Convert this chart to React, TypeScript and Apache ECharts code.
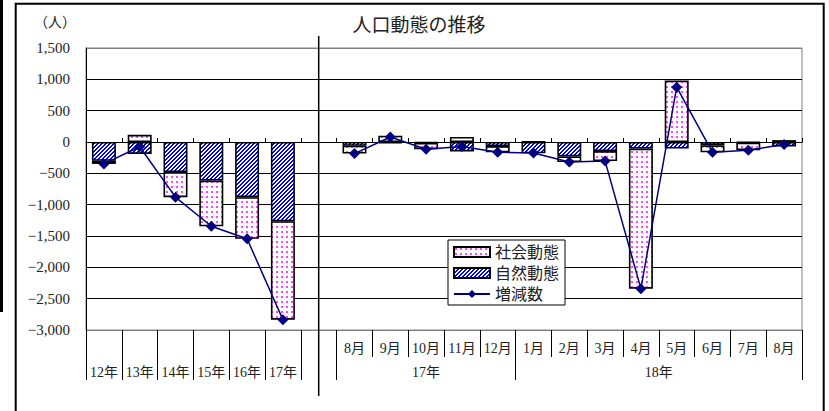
import React, { useEffect, useRef } from 'react';
import * as echarts from 'echarts';

// ---- data ----
const yearCategories = ['12年', '13年', '14年', '15年', '16年', '17年'];
const months17 = ['8月', '9月', '10月', '11月', '12月'];
const months18 = ['1月', '2月', '3月', '4月', '5月', '6月', '7月', '8月'];
const groupLabels = ['17年', '18年'];

// 自然動態 (natural change)
const natural = [-300, -190, -480, -615, -880, -1265, null, -60, -20, -15, -150, -65, -180, -230, -145, -105, -105, -55, -10, -70];
// 社会動態 (social change)
const social = [-50, 115, -400, -730, -665, -1570, null, -125, 100, -100, 80, -100, 5, -90, -160, -2235, 980, -110, -120, 30];
// 増減数 (net change)
const netChange = [-350, -75, -880, -1345, -1545, -2835, null, -185, 80, -115, -70, -165, -175, -320, -305, -2340, 875, -165, -130, -40];

const yMin = -3000;
const yMax = 1500;
const yStep = 500;

const FONT = '"Liberation Serif", "Noto Sans CJK JP", serif';
const TEXT = '#222';

const GRID_LEFT = 86;
const GRID_TOP = 48;
const GRID_RIGHT = 27;
const GRID_BOTTOM = 81;

export default function App() {
  const ref = useRef<HTMLDivElement>(null);

  useEffect(() => {
    const el = ref.current!;
    const chart = echarts.init(el, null, { renderer: 'svg' });

    // patterns
    const dots = document.createElement('canvas');
    dots.width = 5;
    dots.height = 5;
    let ctx = dots.getContext('2d')!;
    ctx.fillStyle = '#ffffff';
    ctx.fillRect(0, 0, 5, 5);
    ctx.fillStyle = '#ff44ff';
    ctx.fillRect(1, 1, 2, 2);

    const hatch = document.createElement('canvas');
    hatch.width = 4;
    hatch.height = 4;
    ctx = hatch.getContext('2d')!;
    ctx.fillStyle = '#ffffff';
    ctx.fillRect(0, 0, 4, 4);
    ctx.fillStyle = '#0000ff';
    for (let x = 0; x < 4; x++) {
      for (let y = 0; y < 4; y++) {
        if ((x + y) % 4 < 2) ctx.fillRect(x, y, 1, 1);
      }
    }

    const months = [...months17, ...months18];
    const categories = [...yearCategories, '', ...months];
    const n = categories.length;
    const row1Labels = [...yearCategories.map(() => ''), '', ...months];

    // long divider ticks: every year boundary, blank slot, and group starts
    const longTicks = new Set<number>();
    for (let i = 0; i <= yearCategories.length + 1; i++) longTicks.add(i);
    const g1Start = yearCategories.length + 1;
    const g2Start = g1Start + months17.length;
    longTicks.add(g1Start);
    longTicks.add(g2Start);

    // second row labels on a value axis (half-slot positions)
    const row2: Record<number, string> = {};
    yearCategories.forEach((c, i) => {
      row2[Math.round((i + 0.5) * 2)] = c;
    });
    row2[Math.round((g1Start + months17.length / 2) * 2)] = groupLabels[0];
    row2[Math.round((g2Start + months18.length / 2) * 2)] = groupLabels[1];

    const nLines = Math.round((yMax - yMin) / yStep) + 1;
    const splitColors = Array.from({ length: nLines }, (_, i) =>
      i === 0 || i === nLines - 1 ? '#808080' : '#000000'
    );

    const fmt = (v: number) => {
      const s = Math.abs(v).toLocaleString('en-US');
      return v < 0 ? '\u2212' + s : s;
    };

    chart.setOption({
      animation: false,
      backgroundColor: '#ffffff',
      grid: {
        left: GRID_LEFT,
        top: GRID_TOP,
        right: GRID_RIGHT,
        bottom: GRID_BOTTOM,
        show: true,
        borderColor: '#808080',
        borderWidth: 1,
        backgroundColor: 'transparent',
      },
      legend: {
        left: 448,
        top: 240,
        orient: 'vertical',
        padding: [4, 6, 3, 5],
        itemWidth: 36,
        itemHeight: 10,
        itemGap: 5,
        backgroundColor: '#ffffff',
        borderColor: '#000000',
        borderWidth: 1,
        selectedMode: false,
        textStyle: { fontSize: 16, lineHeight: 16, fontFamily: FONT, color: TEXT },
        data: [
          { name: '社会動態', icon: 'rect' },
          { name: '自然動態', icon: 'rect' },
          { name: '増減数' },
        ],
      },
      xAxis: [
        {
          type: 'category',
          data: categories,
          position: 'bottom',
          axisLine: { show: true, onZero: true, lineStyle: { color: '#000', width: 1 } },
          axisTick: { show: true, inside: true, length: 4, interval: 0, lineStyle: { color: '#000' } },
          axisLabel: { show: false },
          splitLine: { show: false },
        },
        {
          type: 'category',
          data: row1Labels,
          position: 'bottom',
          axisLine: { show: false, onZero: false },
          axisTick: { show: true, length: 27, interval: 0, lineStyle: { color: '#000' } },
          axisLabel: { interval: 0, margin: 11, fontSize: 14, color: TEXT, fontFamily: FONT },
          splitLine: { show: false },
        },
        {
          type: 'category',
          data: categories,
          position: 'bottom',
          axisLine: { show: false, onZero: false },
          axisTick: {
            show: true,
            length: 50,
            interval: (i: number) => longTicks.has(i),
            lineStyle: { color: '#000' },
          },
          axisLabel: { show: false },
          splitLine: { show: false },
        },
        {
          type: 'value',
          min: 0,
          max: n,
          interval: 0.5,
          position: 'bottom',
          axisLine: { show: false, onZero: false },
          axisTick: { show: false },
          splitLine: { show: false },
          axisLabel: {
            margin: 35,
            fontSize: 14,
            color: TEXT,
            fontFamily: FONT,
            formatter: (v: number) => row2[Math.round(v * 2)] || '',
          },
        },
      ],
      yAxis: {
        type: 'value',
        min: yMin,
        max: yMax,
        interval: yStep,
        axisLine: { show: true, onZero: false, lineStyle: { color: '#000', width: 1 } },
        axisTick: { show: false },
        axisLabel: { margin: 16, fontSize: 15, color: TEXT, fontFamily: FONT, formatter: fmt },
        splitLine: { show: true, lineStyle: { color: splitColors, width: 1 } },
      },
      series: [
        {
          name: '自然動態',
          type: 'bar',
          stack: 'total',
          data: natural,
          barCategoryGap: '33%',
          itemStyle: { color: { image: hatch, repeat: 'repeat' }, borderColor: '#000', borderWidth: 1.6 },
        },
        {
          name: '社会動態',
          type: 'bar',
          stack: 'total',
          data: social,
          barCategoryGap: '33%',
          itemStyle: { color: { image: dots, repeat: 'repeat' }, borderColor: '#000', borderWidth: 1.6 },
        },
        {
          name: '増減数',
          type: 'line',
          data: netChange,
          symbol: 'diamond',
          symbolSize: 11,
          itemStyle: { color: '#000080' },
          lineStyle: { color: '#000080', width: 1.5 },
        },
      ],
    });

    let sepX = chart.convertToPixel({ xAxisIndex: 0 }, yearCategories.length) as number;
    if (typeof sepX !== 'number' || isNaN(sepX)) {
      const slot = (829 - GRID_LEFT - GRID_RIGHT) / n;
      sepX = GRID_LEFT + (yearCategories.length + 0.5) * slot;
    }

    chart.setOption({
      graphic: [
        {
          type: 'rect',
          silent: true,
          shape: { x: 0, y: 0, width: 3, height: 312 },
          style: { fill: '#000' },
        },
        {
          type: 'rect',
          silent: true,
          shape: { x: 15.7, y: 3.7, width: 808, height: 440 },
          style: { fill: 'none', stroke: '#000', lineWidth: 2 },
        },
        {
          type: 'line',
          silent: true,
          shape: { x1: sepX, y1: 36, x2: sepX, y2: 396 },
          style: { stroke: '#000', lineWidth: 1.5 },
        },
        {
          type: 'text',
          silent: true,
          x: 419,
          y: 25,
          style: {
            text: '人口動態の推移',
            fontSize: 19,
            fontFamily: FONT,
            fill: TEXT,
            align: 'center',
            verticalAlign: 'middle',
          },
        },
        {
          type: 'text',
          silent: true,
          x: 55,
          y: 22,
          style: {
            text: '（人）',
            fontSize: 14,
            fontFamily: FONT,
            fill: TEXT,
            align: 'center',
            verticalAlign: 'middle',
          },
        },
      ],
    });

    return () => {
      chart.dispose();
    };
  }, []);

  return (
    <div
      ref={ref}
      style={{ position: 'fixed', left: 0, top: 0, width: 829, height: 411, background: '#fff' }}
    />
  );
}
